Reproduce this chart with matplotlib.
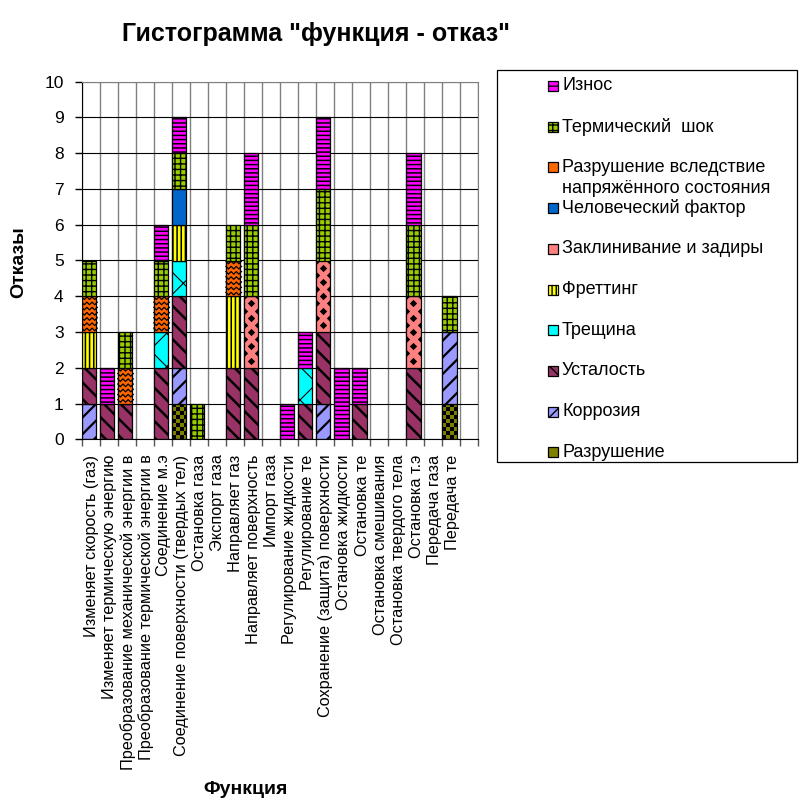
import numpy as np
import matplotlib
matplotlib.use('Agg')
import matplotlib.pyplot as plt
from matplotlib.lines import Line2D
from matplotlib.patches import Rectangle

plt.rcParams['font.family'] = ['Liberation Sans', 'DejaVu Sans']

functions = [
    'Изменяет скорость (газ)',
    'Изменяет термическую энергию',
    'Преобразование механической энергии в',
    'Преобразование термической энергии в',
    'Соединение м.э',
    'Соединение поверхности (твердых тел)',
    'Остановка газа',
    'Экспорт газа',
    'Направляет газ',
    'Направляет поверхность',
    'Импорт газа',
    'Регулирование жидкости',
    'Регулирование те',
    'Сохранение (защита) поверхности',
    'Остановка жидкости',
    'Остановка те',
    'Остановка смешивания',
    'Остановка твердого тела',
    'Остановка т.э',
    'Передача газа',
    'Передача те',
    '',
]

# failure counts per function, stacked bottom -> top
razrushenie    = [0, 0, 0, 0, 0, 1, 0, 0, 0, 0, 0, 0, 0, 0, 0, 0, 0, 0, 0, 0, 1, 0]
korroziya      = [1, 0, 0, 0, 0, 1, 0, 0, 0, 0, 0, 0, 0, 1, 0, 0, 0, 0, 0, 0, 2, 0]
ustalost       = [1, 1, 1, 0, 2, 2, 0, 0, 2, 2, 0, 0, 1, 2, 0, 1, 0, 0, 2, 0, 0, 0]
treshchina     = [0, 0, 0, 0, 1, 1, 0, 0, 0, 0, 0, 0, 1, 0, 0, 0, 0, 0, 0, 0, 0, 0]
fretting       = [1, 0, 0, 0, 0, 1, 0, 0, 2, 0, 0, 0, 0, 0, 0, 0, 0, 0, 0, 0, 0, 0]
zaklinivanie   = [0, 0, 0, 0, 0, 0, 0, 0, 0, 2, 0, 0, 0, 2, 0, 0, 0, 0, 2, 0, 0, 0]
chelovecheskiy = [0, 0, 0, 0, 0, 1, 0, 0, 0, 0, 0, 0, 0, 0, 0, 0, 0, 0, 0, 0, 0, 0]
napryazhenie   = [1, 0, 1, 0, 1, 0, 0, 0, 1, 0, 0, 0, 0, 0, 0, 0, 0, 0, 0, 0, 0, 0]
termoshok      = [1, 0, 1, 0, 1, 1, 1, 0, 1, 2, 0, 0, 0, 2, 0, 0, 0, 0, 2, 0, 1, 0]
iznos          = [0, 1, 0, 0, 1, 1, 0, 0, 0, 2, 0, 1, 1, 2, 2, 1, 0, 0, 2, 0, 0, 0]

# name, values, face colour, hatch, extra pattern, hatch line width
series = [
    ('Разрушение', razrushenie, '#808000', None, 'checker', 1.0),
    ('Коррозия', korroziya, '#9999FF', '//', None, 1.6),
    ('Усталость', ustalost, '#993366', '\\\\', None, 1.8),
    ('Трещина', treshchina, '#00FFFF', 'x', None, 0.8),
    ('Фреттинг', fretting, '#FFFF00', '||||', None, 1.1),
    ('Заклинивание и задиры', zaklinivanie, '#FF8080', None, 'diamonds', 1.0),
    ('Человеческий фактор', chelovecheskiy, '#0066CC', None, None, 1.0),
    ('Разрушение вследствие\nнапряжённого состояния', napryazhenie, '#FF6600', None, 'waves', 1.0),
    ('Термический  шок', termoshok, '#99CC00', '+++', None, 1.0),
    ('Износ', iznos, '#FF00FF', '----', None, 1.1),
]

W, H, DPI = 811, 801, 100
fig = plt.figure(figsize=(W / DPI, H / DPI), dpi=DPI)
fig.patch.set_facecolor('white')

# plot area in pixels: left, top, right, bottom
pl, pt, pr, pb = 81.7, 81.7, 478.3, 439.3
ax = fig.add_axes([pl / W, 1 - pb / H, (pr - pl) / W, (pb - pt) / H])
n = len(functions)
ax.set_xlim(0, n)
ax.set_ylim(0, 10)

# data units per pixel, used for the drawn patterns
ux = n / (pr - pl)
uy = 10 / (pb - pt)


def add_pattern(patch, kind):
    x0, y0 = patch.get_x(), patch.get_y()
    w, h = patch.get_width(), patch.get_height()
    if kind == 'waves':
        step = 5.2 * uy
        amp = 1.3 * uy
        xs = np.arange(x0, x0 + w + 2.6 * ux, 2.6 * ux)
        for yc in np.arange(y0 + step / 2, y0 + h, step):
            ys = yc + amp * np.where(np.arange(len(xs)) % 2 == 0, 1, -1)
            ln = Line2D(xs, ys, color='black', lw=0.9, zorder=3)
            ln.set_clip_path(patch)
            ax.add_line(ln)
    elif kind == 'diamonds':
        xs, ys = [], []
        step = 14.3 * uy
        for k, yc in enumerate(np.arange(y0 + step / 2, y0 + h + step, step / 2)):
            if k % 2 == 0:
                xs.append(x0 + w / 2)
                ys.append(yc)
            else:
                xs += [x0, x0 + w]
                ys += [yc, yc]
        sc = ax.scatter(xs, ys, marker='D', s=14, color='black', lw=0, zorder=3)
        sc.set_clip_path(patch)
    elif kind == 'checker':
        cell = 4.0
        xs, ys = [], []
        nx = int(round(w / ux / cell)) + 1
        ny = int(round(h / uy / cell)) + 1
        for i in range(nx):
            for j in range(ny):
                if (i + j) % 2 == 0:
                    xs.append(x0 + (i + 0.5) * cell * ux)
                    ys.append(y0 + (j + 0.5) * cell * uy)
        sc = ax.scatter(xs, ys, marker='s', s=(cell * 0.72) ** 2, color='black',
                        lw=0, zorder=3)
        sc.set_clip_path(patch)


x = np.arange(n)
bottom = np.zeros(n)
for name, vals, fc, hatch, pattern, hlw in series:
    vals = np.asarray(vals, dtype=float)
    idx = np.nonzero(vals)[0]
    plt.rcParams['hatch.linewidth'] = hlw
    bars = ax.bar(x[idx], vals[idx], width=0.8, bottom=bottom[idx], align='edge',
                  color=fc, edgecolor='black', linewidth=0.9, hatch=hatch, zorder=2)
    for p in bars:
        if hatch and hasattr(p, 'set_hatch_linewidth'):
            p.set_hatch_linewidth(hlw)
        if pattern:
            add_pattern(p, pattern)
    bottom += vals

# axes styling
ax.set_xticks(x + 0.55)
ax.set_xticklabels(functions, rotation=90, fontsize=11.7, va='top', ha='center')
ax.set_xticks(np.arange(n + 1), minor=True)
ax.tick_params(axis='x', which='major', length=0, pad=11)
ax.tick_params(axis='x', which='minor', length=5, width=1, color='#555555')
ax.set_yticks(np.arange(0, 11, 1))
ax.tick_params(axis='y', which='major', length=5, width=1, pad=8, labelsize=12.5)
ax.grid(axis='x', which='minor', color='#808080', lw=1)
ax.grid(axis='y', which='major', color='black', lw=0.8)
ax.set_axisbelow(True)
for side in ['top', 'right']:
    ax.spines[side].set_color('#808080')
ax.spines['left'].set_color('black')
ax.spines['bottom'].set_color('black')

fig.text(316 / W, 1 - 34 / H, 'Гистограмма "функция - отказ"', fontsize=18,
         fontweight='bold', ha='center', va='center')
fig.text(19 / W, 1 - 262 / H, 'Отказы', fontsize=14, fontweight='bold',
         rotation=90, ha='center', va='center')
fig.text(246 / W, 1 - 789 / H, 'Функция', fontsize=14, fontweight='bold',
         ha='center', va='center')

# legend box, top entry first
lx0, ly0, lx1, ly1 = 497, 70, 797, 462
fig.patches.append(Rectangle((lx0 / W, 1 - ly1 / H), (lx1 - lx0) / W, (ly1 - ly0) / H,
                             transform=fig.transFigure, facecolor='white',
                             edgecolor='black', lw=0.9, zorder=1))
sw = 10
for k, (name, vals, fc, hatch, pattern, hlw) in enumerate(reversed(series)):
    yc = 86 + k * 40.7
    plt.rcParams['hatch.linewidth'] = min(hlw, 1.0)
    fig.patches.append(Rectangle((548 / W, 1 - (yc + sw / 2) / H), sw / W, sw / H,
                                 transform=fig.transFigure, facecolor=fc,
                                 edgecolor='black', lw=0.9,
                                 hatch=hatch.replace('----', '---') if hatch else None,
                                 zorder=2))
    for j, line in enumerate(name.split('\n')):
        fig.text(562 / W, 1 - (yc + j * 21) / H, line, fontsize=13,
                 ha='left', va='center')

fig.savefig('out.png', dpi=DPI)
